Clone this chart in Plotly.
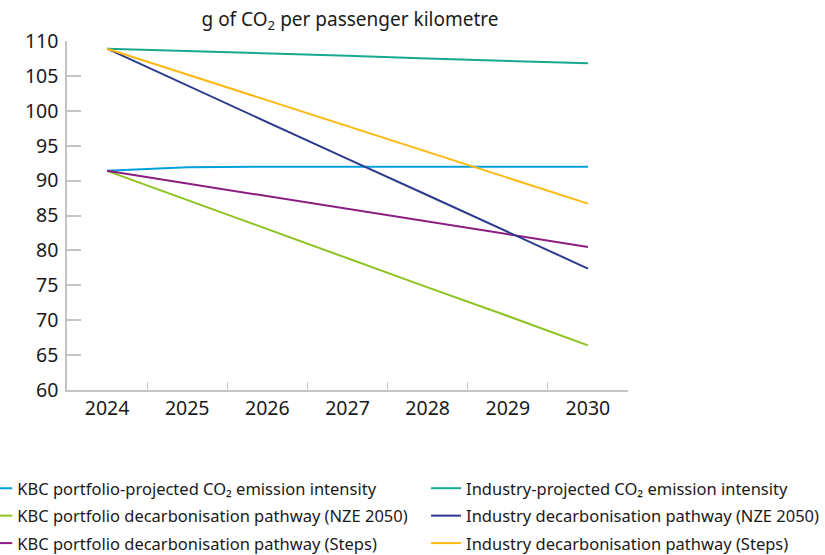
import plotly.graph_objects as go

years = ["2024", "2025", "2026", "2027", "2028", "2029", "2030"]

kbc_projected = [91.4, 91.9, 92.0, 92.0, 92.0, 92.0, 92.0]
kbc_nze = [91.4, 87.2, 83.0, 78.9, 74.7, 70.6, 66.4]
kbc_steps = [91.4, 89.6, 87.8, 85.9, 84.1, 82.3, 80.5]
ind_projected = [108.9, 108.6, 108.3, 107.9, 107.5, 107.2, 106.8]
ind_nze = [108.9, 103.6, 98.4, 93.1, 87.9, 82.6, 77.4]
ind_steps = [108.9, 105.2, 101.5, 97.8, 94.1, 90.4, 86.7]

series = [
    ("KBC portfolio-projected CO₂ emission intensity", kbc_projected, "#00a0e0", "legend"),
    ("KBC portfolio decarbonisation pathway (NZE 2050)", kbc_nze, "#8dc21f", "legend"),
    ("KBC portfolio decarbonisation pathway (Steps)", kbc_steps, "#8b1d82", "legend"),
    ("Industry-projected CO₂ emission intensity", ind_projected, "#17a98f", "legend2"),
    ("Industry decarbonisation pathway (NZE 2050)", ind_nze, "#2c3a8e", "legend2"),
    ("Industry decarbonisation pathway (Steps)", ind_steps, "#fdb913", "legend2"),
]

FONT = "'Noto Sans', 'Open Sans', sans-serif"
TXT = "#1a1a1a"

fig = go.Figure()
for i, (name, vals, color, leg) in enumerate(series):
    fig.add_trace(go.Scatter(
        x=years, y=vals, name=name, mode="lines",
        line=dict(color=color, width=2),
        legend=leg, legendgroup=f"g{i}",
    ))

legend_style = dict(
    orientation="v", xanchor="left", yanchor="top",
    font=dict(family=FONT, size=16.5, color=TXT),
    bgcolor="rgba(0,0,0,0)", tracegroupgap=3, itemwidth=30,
)

fig.update_layout(
    width=825, height=555,
    margin=dict(l=67, r=197, t=41, b=165, autoexpand=False),
    paper_bgcolor="white", plot_bgcolor="white",
    font=dict(family=FONT, color=TXT),
    title=dict(
        text="g of CO<sub>2</sub> per passenger kilometre",
        x=350 / 825, xanchor="center", y=0.965, yanchor="middle",
        font=dict(family=FONT, size=19, color=TXT),
    ),
    legend=dict(x=-0.16, y=-0.232, **legend_style),
    legend2=dict(x=0.64, y=-0.232, **legend_style),
    xaxis=dict(
        type="category", range=[-0.5, 6.5], tickson="boundaries",
        ticks="inside", ticklen=8, tickcolor="#c4c4c4", tickwidth=1,
        showline=True, linecolor="#c4c4c4", linewidth=1.5,
        showgrid=False, zeroline=False,
        tickfont=dict(family=FONT, size=19.5, color=TXT),
    ),
    yaxis=dict(
        range=[60, 110], dtick=5, tick0=60,
        ticks="inside", ticklen=14, tickcolor="#c4c4c4", tickwidth=1.5,
        showline=True, linecolor="#c4c4c4", linewidth=1.5,
        showgrid=False, zeroline=False, ticklabelstandoff=3,
        tickfont=dict(family=FONT, size=19.5, color=TXT),
    ),
)

fig.write_html("out.html")
